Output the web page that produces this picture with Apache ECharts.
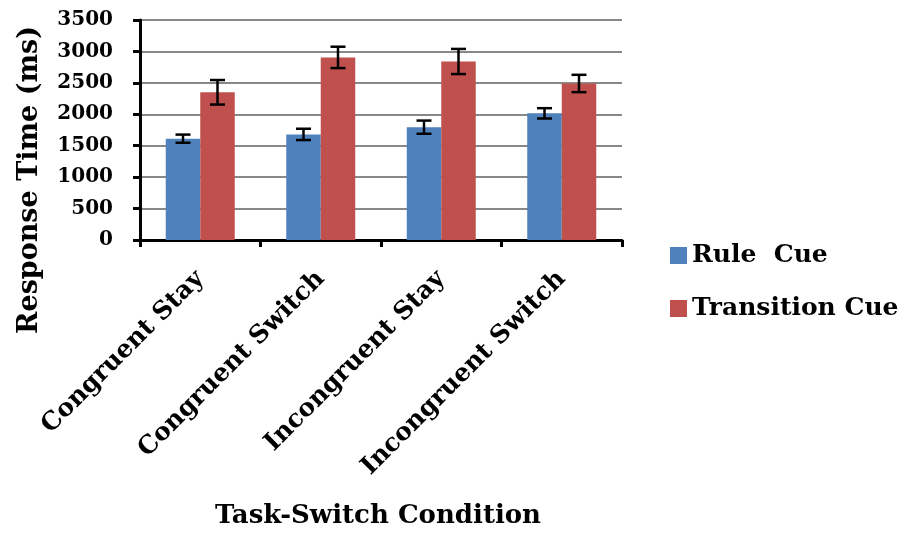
<!DOCTYPE html>
<html><head><meta charset="utf-8">
<script src="https://cdn.jsdelivr.net/npm/echarts@6/dist/echarts.min.js"></script>
<style>html,body{margin:0;padding:0;background:#fff}#c{width:907px;height:533px}</style>
</head><body><div id="c"></div>
<script>
const categories = ['Congruent Stay', 'Congruent Switch', 'Incongruent Stay', 'Incongruent Switch'];
const ruleCue = [1612, 1680, 1795, 2015];
const ruleCueErr = [65, 90, 105, 82];
const transitionCue = [2350, 2905, 2840, 2490];
const transitionCueErr = [195, 170, 200, 138];
const yTicks = [0, 500, 1000, 1500, 2000, 2500, 3000, 3500];

const FONT = 'DejaVu Serif';
const BAR_W = 34.5;

function errSeries(vals, errs, offset, name) {
  return {
    type: 'custom', name: name, z: 10, silent: true,
    data: vals.map((v, i) => [i, v - errs[i], v + errs[i]]),
    renderItem: function (params, api) {
      const lo = api.coord([api.value(0), api.value(1)]);
      const hi = api.coord([api.value(0), api.value(2)]);
      const x = lo[0] + offset;
      const cap = 7.5;
      const st = { stroke: '#000', lineWidth: 2.5 };
      return { type: 'group', children: [
        { type: 'line', shape: { x1: x, y1: lo[1], x2: x, y2: hi[1] }, style: st },
        { type: 'line', shape: { x1: x - cap, y1: lo[1], x2: x + cap, y2: lo[1] }, style: st },
        { type: 'line', shape: { x1: x - cap, y1: hi[1], x2: x + cap, y2: hi[1] }, style: st }
      ]};
    }
  };
}

const chart = echarts.init(document.getElementById('c'));
chart.setOption({
  animation: false,
  backgroundColor: '#fff',
  grid: { left: 140, right: 285, top: 20, bottom: 293, containLabel: false },
  legend: {
    data: ['Rule  Cue', 'Transition Cue'],
    orient: 'vertical', left: 665, top: 238,
    itemWidth: 17, itemHeight: 17, itemGap: 28,
    textStyle: { fontFamily: FONT, fontWeight: 'bold', fontSize: 25, color: '#000' },
    icon: 'rect'
  },
  xAxis: {
    type: 'category', data: categories,
    axisLine: { lineStyle: { color: '#000', width: 3 } },
    axisTick: { show: true, length: 7, lineStyle: { color: '#000', width: 3 } },
    axisLabel: { rotate: 45, margin: 35, fontFamily: FONT, fontWeight: 'bold', fontSize: 25, color: '#000' }
  },
  yAxis: {
    type: 'value', min: 0, max: 3500, interval: 500,
    axisLine: { show: true, lineStyle: { color: '#000', width: 3 } },
    axisTick: { show: true, length: 7, lineStyle: { color: '#000', width: 3 } },
    splitLine: { lineStyle: { color: '#888', width: 2 } },
    axisLabel: { margin: 27, fontFamily: FONT, fontWeight: 'bold', fontSize: 20, color: '#000',
      formatter: v => yTicks.includes(v) ? String(v) : '' }
  },
  graphic: [
    { type: 'text', x: 30, y: 180, rotation: Math.PI / 2,
      style: { text: 'Response Time (ms)', fontFamily: FONT, fontWeight: 'bold', fontSize: 27, fill: '#000', align: 'center', verticalAlign: 'middle' } },
    { type: 'text', x: 378, y: 516,
      style: { text: 'Task-Switch Condition', fontFamily: FONT, fontWeight: 'bold', fontSize: 26, fill: '#000', align: 'center', verticalAlign: 'middle' } }
  ],
  series: [
    { name: 'Rule  Cue', type: 'bar', data: ruleCue, barWidth: BAR_W, barGap: '0%', itemStyle: { color: '#4F81BD' } },
    { name: 'Transition Cue', type: 'bar', data: transitionCue, barWidth: BAR_W, barGap: '0%', itemStyle: { color: '#C0504D' } },
    errSeries(ruleCue, ruleCueErr, -BAR_W / 2, 'errRule'),
    errSeries(transitionCue, transitionCueErr, BAR_W / 2, 'errTrans')
  ]
});
</script></body></html>
